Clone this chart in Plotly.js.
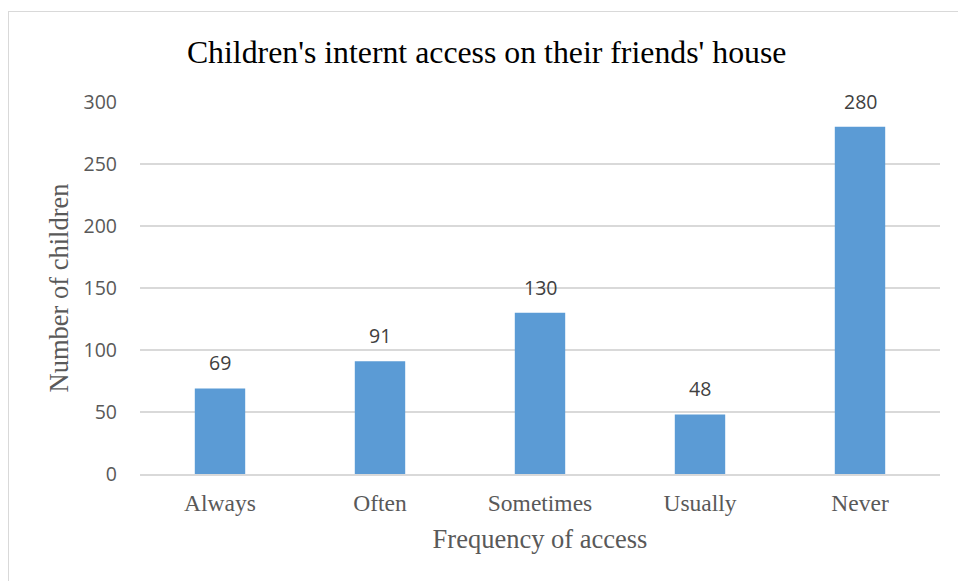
<!DOCTYPE html>
<html><head><meta charset="utf-8">
<script src="https://cdn.plot.ly/plotly-3.0.1.min.js"></script>
<style>
html,body{margin:0;padding:0;background:#fff;}
#wrap{position:relative;width:958px;height:581px;overflow:hidden;}
#border{position:absolute;left:8px;top:11px;width:1000px;height:600px;border-left:1px solid #d9d9d9;border-top:1px solid #d9d9d9;pointer-events:none;}
#chart{position:absolute;left:0;top:0;width:958px;height:581px;}
</style></head>
<body><div id="wrap"><div id="chart"></div><div id="border"></div></div>
<script>
const categories = ["Always", "Often", "Sometimes", "Usually", "Never"];
const counts = [69, 91, 130, 48, 280];
const yTicks = [0, 50, 100, 150, 200, 250, 300];

const serif = "Liberation Serif, Times New Roman, serif";
const sans = "Open Sans, sans-serif";

const trace = {
  type: "bar",
  x: categories,
  y: counts,
  marker: {color: "#5B9BD5"},
  hoverinfo: "x+y"
};

const annotations = categories.map((c, i) => ({
  x: c, y: counts[i], xref: "x", yref: "y",
  text: String(counts[i]), showarrow: false,
  yanchor: "bottom", yshift: 10,
  font: {family: sans, size: 19.5, color: "#404040"}
}));

const layout = {
  width: 958, height: 581,
  margin: {l: 140, r: 18, t: 102, b: 107},
  paper_bgcolor: "#fff", plot_bgcolor: "#fff",
  bargap: 0.685,
  showlegend: false,
  title: {text: "Children's internt access on their friends' house", x: 0.508, xref: "container", xanchor: "center", y: 0.91, yref: "container", yanchor: "middle",
    font: {family: serif, size: 31.8, color: "#000"}},
  xaxis: {
    type: "category",
    showgrid: false, showline: true, linecolor: "#d9d9d9", linewidth: 1.5,
    ticks: "", ticklabelstandoff: 7,
    tickfont: {family: serif, size: 23.5, color: "#595959"},
    title: {text: "Frequency of access", standoff: 14, font: {family: serif, size: 26.5, color: "#595959"}}
  },
  yaxis: {
    range: [0, 300],
    tickvals: yTicks, ticktext: yTicks.map(String),
    showgrid: true, gridcolor: "#d9d9d9", gridwidth: 1.2,
    zeroline: false, showline: false,
    ticks: "", ticklabelstandoff: 22,
    tickfont: {family: sans, size: 19.5, color: "#595959"},
    title: {text: "Number of children", standoff: 7, font: {family: serif, size: 26.5, color: "#595959"}}
  },
  annotations: annotations
};

Plotly.newPlot("chart", [trace], layout, {displayModeBar: false, staticPlot: true});
</script></body></html>
